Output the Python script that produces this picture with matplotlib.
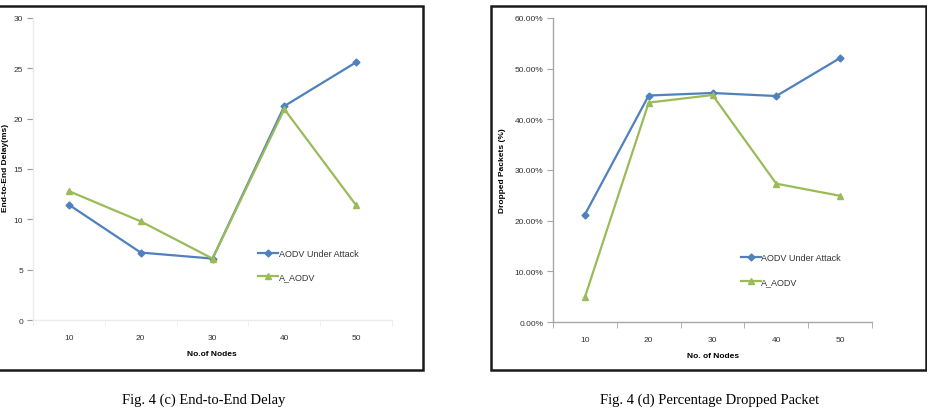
import matplotlib
matplotlib.use("Agg")
import matplotlib.pyplot as plt
from matplotlib.patches import Rectangle
from matplotlib.ticker import PercentFormatter, FixedLocator

# data
nodes = ["10", "20", "30", "40", "50"]
delay_attack = [11.45, 6.7, 6.1, 21.25, 25.6]
delay_aaodv = [12.8, 9.8, 6.1, 20.95, 11.4]
drop_attack = [0.212, 0.447, 0.452, 0.446, 0.521]
drop_aaodv = [0.049, 0.433, 0.448, 0.273, 0.249]
series_names = ["AODV Under Attack", "A_AODV"]

BLUE = "#4F81BD"
GREEN = "#9BBB59"
TXT = "#333333"
LBL = "Liberation Sans"

fig = plt.figure(figsize=(9.27, 4.10), dpi=100)
W, H = 927.0, 410.0


def axes_px(x0, y0, x1, y1):
    # pixel box (top-left origin) -> figure axes
    return fig.add_axes([x0 / W, 1 - y1 / H, (x1 - x0) / W, (y1 - y0) / H])


def frame_px(x0, y0, x1, y1):
    fig.patches.append(Rectangle((x0 / W, 1 - y1 / H), (x1 - x0) / W, (y1 - y0) / H,
                                 transform=fig.transFigure, fill=False,
                                 edgecolor="#1a1a1a", linewidth=1.8))


def style_axes(ax, spine_col):
    pos = list(range(len(nodes)))
    ax.set_xlim(-0.5, len(nodes) - 0.5)
    ax.set_xticks(pos)
    ax.set_xticklabels(nodes, fontsize=6, color=TXT, family=LBL)
    ax.tick_params(axis="x", which="major", length=0, pad=10)
    ax.xaxis.set_minor_locator(FixedLocator([p + 0.5 for p in [-1] + pos]))
    ax.tick_params(axis="x", which="minor", length=4, color=spine_col, direction="out")
    ax.tick_params(axis="y", length=4, color=spine_col, labelsize=6, labelcolor=TXT, pad=3)
    for lab in ax.get_yticklabels():
        lab.set_family(LBL)
    for s in ["top", "right"]:
        ax.spines[s].set_visible(False)
    for s in ["left", "bottom"]:
        ax.spines[s].set_color(spine_col)
        ax.spines[s].set_linewidth(1.0)


def draw_lines(ax, a, b):
    x = list(range(len(nodes)))
    ax.plot(x, a, color=BLUE, lw=1.6, marker="D", ms=3.5, label=series_names[0])
    ax.plot(x, b, color=GREEN, lw=1.6, marker="^", ms=5, label=series_names[1])


def add_legend(ax, x, y):
    ax.legend(loc="upper left", bbox_to_anchor=(x, y), frameon=False,
              prop={"family": LBL, "size": 6.5}, handlelength=2.2, labelspacing=1.6,
              borderaxespad=0, handletextpad=0.1, labelcolor=TXT)


# ---- left: end-to-end delay
ax1 = axes_px(33, 19, 392, 321)
draw_lines(ax1, delay_attack, delay_aaodv)
ax1.set_ylim(0, 30)
ax1.set_yticks(range(0, 31, 5))
style_axes(ax1, "#ececec")
ax1.tick_params(axis="y", color="#999999")
add_legend(ax1, 0.616, 0.247)
fig.text(212 / W, 1 - 355 / H, "No.of Nodes", ha="center", va="center",
         fontsize=6, fontweight="bold", family=LBL)
fig.text(6 / W, 1 - 168 / H, "End-to-End Delay(ms)", ha="center", va="center",
         rotation=90, fontsize=6, fontweight="bold", family=LBL)
frame_px(-5, 7, 423, 371)

# ---- right: dropped packets
ax2 = axes_px(553, 19, 872, 323)
draw_lines(ax2, drop_attack, drop_aaodv)
ax2.set_ylim(0, 0.6)
ax2.set_yticks([i / 10 for i in range(7)])
ax2.yaxis.set_major_formatter(PercentFormatter(1.0, decimals=2))
style_axes(ax2, "#a6a6a6")
add_legend(ax2, 0.577, 0.238)
fig.text(713 / W, 1 - 357 / H, "No. of Nodes", ha="center", va="center",
         fontsize=6, fontweight="bold", family=LBL)
fig.text(503 / W, 1 - 171 / H, "Dropped Packets (%)", ha="center", va="center",
         rotation=90, fontsize=6, fontweight="bold", family=LBL)
frame_px(491, 7, 926, 371)

# captions
fig.text(204 / W, 1 - 400 / H, "Fig. 4 (c) End-to-End Delay", ha="center", va="center",
         fontsize=10.5, family="Liberation Serif")
fig.text(710 / W, 1 - 400 / H, "Fig. 4 (d) Percentage Dropped Packet", ha="center",
         va="center", fontsize=10.5, family="Liberation Serif")

fig.savefig("out.png", dpi=100)
